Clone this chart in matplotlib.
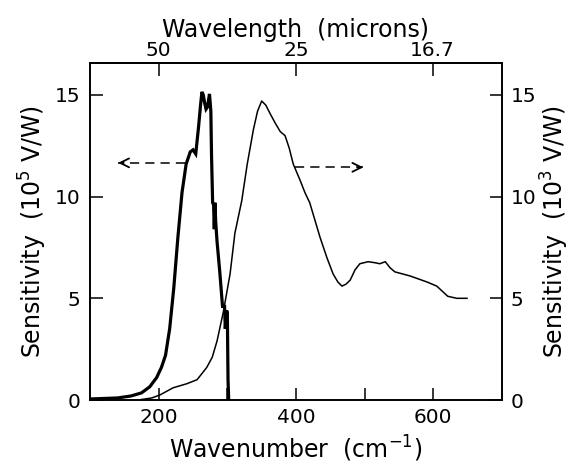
import numpy as np
import matplotlib
matplotlib.use("Agg")
import matplotlib.pyplot as plt

# thick curve, left axis (10^5 V/W)
wn_thick = [100, 140, 160, 175, 187, 197, 204, 210, 216, 222, 228, 234, 240, 246,
            250, 254, 258, 261, 263, 265, 267, 269, 271, 274, 276, 277, 278.6, 280,
            281, 282, 283, 285, 289, 293, 296, 297, 299, 300, 301, 302]
s_thick = [0.05, 0.1, 0.2, 0.35, 0.65, 1.1, 1.6, 2.2, 3.5, 5.5, 8.0, 10.2, 11.6, 12.2,
           12.3, 12.1, 13.4, 14.5, 15.15, 15.0, 14.6, 14.3, 14.4, 15.05, 14.2, 12.0, 9.7, 9.6,
           8.4, 9.7, 8.8, 7.8, 6.3, 4.6, 4.6, 3.5, 4.4, 4.3, 1.0, 0.0]

# thin curve, right axis (10^3 V/W)
wn_thin = [170, 190, 202, 221, 241, 256, 270, 278, 285, 294, 304, 311, 321, 329, 338,
           344, 350, 356, 362, 370, 377, 384, 390, 396, 406, 413, 420, 435, 445, 454,
           461, 467, 473, 479, 486, 493, 505, 515, 522, 530, 537, 544, 555, 566, 591,
           605, 621, 634, 649]
s_thin = [0.0, 0.1, 0.25, 0.6, 0.8, 1.0, 1.6, 2.1, 2.9, 4.3, 6.2, 8.2, 9.8, 11.6, 13.3,
          14.2, 14.7, 14.5, 14.1, 13.6, 13.2, 13.0, 12.4, 11.6, 10.8, 10.2, 9.7, 8.0, 7.0,
          6.2, 5.8, 5.6, 5.7, 5.9, 6.4, 6.7, 6.8, 6.75, 6.7, 6.8, 6.5, 6.3, 6.2, 6.1, 5.8,
          5.6, 5.1, 5.0, 5.0]

bottom_ticks = [200, 400, 600]
bottom_minor = [300, 500]
top_wavelengths = [50, 25, 16.7]
y_ticks = [0, 5, 10, 15]

# dashed arrows: (start, end) in wavenumber, at given height
arrow_left = (238, 141, 11.66)
arrow_right = (398, 498, 11.44)

plt.rcParams['font.family'] = ['DejaVu Sans']

fig = plt.figure(figsize=(5.71, 4.68), dpi=100)
ax = fig.add_axes([90 / 571, 1 - 400 / 468, 412 / 571, 337 / 468])
ax2 = ax.twinx()

ax.plot(wn_thick, s_thick, color='black', lw=2.3, solid_joinstyle='miter')
ax2.plot(wn_thin, s_thin, color='black', lw=1.1)

for x0, x1, y in (arrow_left, arrow_right):
    ax.plot([x0, x1], [y, y], color='black', lw=1.1, dashes=(6, 4))
    ax.annotate('', xy=(x1, y), xytext=(x1 - np.sign(x1 - x0) * 8, y),
                arrowprops=dict(arrowstyle='->', lw=1.3, color='black',
                                mutation_scale=16, shrinkA=0, shrinkB=0))

ax.set_xlim(100, 700)
ax.set_ylim(0, 16.57)
ax2.set_ylim(0, 16.57)

ax.set_xticks(bottom_ticks)
ax.set_xticks(bottom_minor, minor=True)
ax.set_yticks(y_ticks)
ax2.set_yticks(y_ticks)

ax.tick_params(axis='x', which='both', direction='in', length=9, width=1.1,
               labelsize=14.5, pad=6)
ax.tick_params(axis='y', direction='in', length=9, width=1.1, labelsize=14.5, pad=7)
ax2.tick_params(axis='y', direction='in', length=9, width=1.1, labelsize=14.5, pad=6)

top = ax.secondary_xaxis('top')
top.set_xticks([10000 / w for w in top_wavelengths],
               labels=[str(w) for w in top_wavelengths])
top.tick_params(direction='in', length=9, width=1.1, labelsize=14.5, pad=2)
top.set_xlabel('Wavelength  (microns)', fontsize=17, labelpad=3)

for a in (ax, ax2):
    for sp in a.spines.values():
        sp.set_linewidth(1.2)
top.spines['top'].set_linewidth(1.2)

ax.set_xlabel('Wavenumber  (cm$^{-1}$)', fontsize=17, labelpad=5)
ax.set_ylabel('Sensitivity  (10$^5$ V/W)', fontsize=17, labelpad=4)
ax2.set_ylabel('Sensitivity  (10$^3$ V/W)', fontsize=17, rotation=90, labelpad=2)

fig.savefig('out.png', dpi=100)
